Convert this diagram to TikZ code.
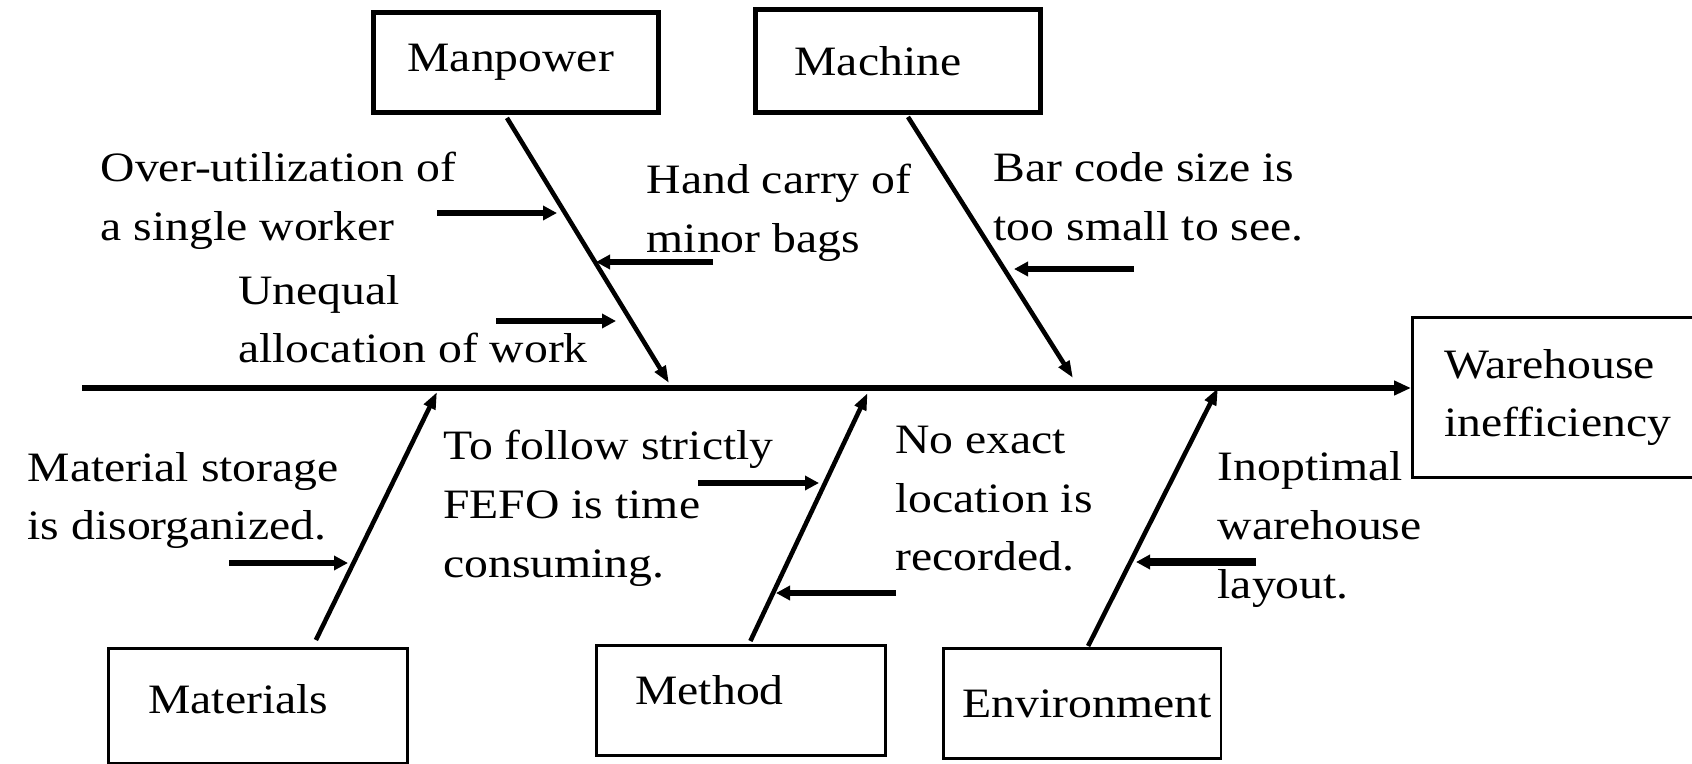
\documentclass[tikz,border=0pt]{standalone}
\usepackage{fontspec}
\setmainfont{Liberation Serif}[FakeStretch=1.14]
\usetikzlibrary{arrows.meta,calc}

\begin{document}
\begin{tikzpicture}[
    x=0.1mm, y=-0.1mm,
    every node/.style={font=\fontsize{11.9}{16.7}\selectfont},
    catbox/.style={draw, anchor=north west, align=left, inner ysep=0pt},
    topbox/.style={catbox, line width=1.4pt},
    lowbox/.style={catbox, line width=0.8pt},
    cause/.style={anchor=north west, align=left, inner sep=0pt},
    spine/.style={-{Triangle[length=1.7mm,width=1.4mm]}, line width=1.6pt},
    bone/.style={-{Triangle[length=1.7mm,width=1.2mm]}, line width=1.3pt},
    arrow/.style={-{Triangle[length=1.4mm,width=1.4mm]}, line width=1.6pt}
]
\useasboundingbox (0,0) rectangle (1692,764);

% effect box and the five categories
\node[lowbox, minimum width=30.9mm, minimum height=16mm, inner xsep=3.2mm, text width=24.5mm] (wh) at (1411,316) {Warehouse\\inefficiency};
\node[topbox, minimum height=10mm, inner xsep=3.4mm, text width=21.7mm] (mp) at (371,10) {Manpower};
\node[topbox, minimum height=10.3mm, inner xsep=3.9mm, text width=20.7mm] (mc) at (753,7) {Machine};
\node[lowbox, minimum height=11.5mm, inner xsep=4mm, text width=21.9mm, text depth=1.4mm] (mat) at (107,647) {Materials};
\node[lowbox, minimum height=11mm, inner xsep=3.9mm, text width=21.1mm, text depth=2mm] (mth) at (595,644) {Method};
\node[lowbox, minimum height=11mm, inner xsep=1.9mm, text width=23.95mm] (env) at (942,647) {Environment};

% spine
\coordinate (tail) at (82,388);
\draw[spine] (tail) -- (tail -| wh.west);

% bones
\coordinate (mptip) at (669,383);
\coordinate (mctip) at (1073,378);
\coordinate (mattip) at (437,392);
\coordinate (mthtip) at (867.6,393);
\coordinate (envtip) at (1218,388);
\draw[bone] ($(mp.south)+(-9,3)$) -- (mptip);
\draw[bone] ($(mc.south)+(10,2)$) -- (mctip);
\draw[bone] ($(mat.north)+(58,-7)$) -- (mattip);
\draw[bone] ($(mth.north)+(9.5,-3)$) -- (mthtip);
\draw[bone] ($(env.north)+(6,-1)$) -- (envtip);

% causes
\node[cause] (overuse) at (100,151.5) {Over-utilization of\\a single worker};
\node[cause] (handcarry) at (646,163.5) {Hand carry of\\minor bags};
\node[cause] (unequal) at (237.5,274.5) {Unequal\\allocation of work};
\node[cause] (barcode) at (993,152) {Bar code size is\\too small to see.};
\node[cause] (storage) at (27,451.5) {Material storage\\is disorganized.};
\node[cause] (fefo) at (442.5,429.5) {To follow strictly\\FEFO is time\\consuming.};
\node[cause] (noloc) at (894.6,425.3) {No exact\\location is\\recorded.};
\node[cause] (layout) at (1217,451) {Inoptimal\\warehouse\\layout.};

\coordinate (overuse-s) at (437,213);
\coordinate (overuse-e) at (557,213);
\coordinate (handcarry-s) at (713,262);
\coordinate (handcarry-e) at (596,262);
\coordinate (unequal-s) at (496,321);
\coordinate (unequal-e) at (616,321);
\coordinate (barcode-s) at (1134,269);
\coordinate (barcode-e) at (1014,269);
\coordinate (storage-s) at (229,563);
\coordinate (storage-e) at (348,563);
\coordinate (fefo-s) at (698,483);
\coordinate (fefo-e) at (819,483);
\coordinate (noloc-s) at (896,593);
\coordinate (noloc-e) at (776,593);
\coordinate (layout-s) at (1256,562);
\coordinate (layout-e) at (1136,562);

\draw[arrow] (overuse-s) -- (overuse-e);
\draw[arrow] (handcarry-s) -- (handcarry-e);
\draw[arrow] (unequal-s) -- (unequal-e);
\draw[arrow] (barcode-s) -- (barcode-e);
\draw[arrow] (storage-s) -- (storage-e);
\draw[arrow] (fefo-s) -- (fefo-e);
\draw[arrow] (noloc-s) -- (noloc-e);
\draw[arrow, line width=2pt] (layout-s) -- (layout-e);

\end{tikzpicture}
\end{document}
